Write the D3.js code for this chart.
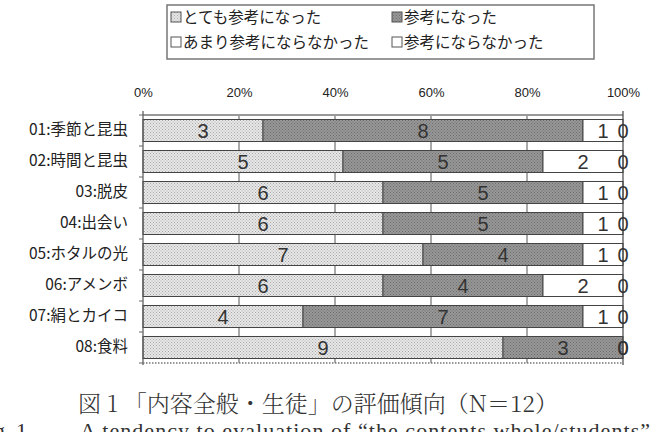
<!DOCTYPE html>
<html><head><meta charset="utf-8">
<script src="https://cdn.jsdelivr.net/npm/d3@7"></script>
<style>body{margin:0;background:#fff}svg{display:block}</style>
</head><body><svg id="c" width="658" height="432"></svg>
<script>
const categories = ["01:季節と昆虫","02:時間と昆虫","03:脱皮","04:出会い","05:ホタルの光","06:アメンボ","07:絹とカイコ","08:食料"];
const seriesNames = ["とても参考になった","参考になった","あまり参考にならなかった","参考にならなかった"];
const s1 = [3,5,6,6,7,6,4,9];
const s2 = [8,5,5,5,4,4,7,3];
const s3 = [1,2,1,1,1,2,1,0];
const s4 = [0,0,0,0,0,0,0,0];
const tickLabels = ["0%","20%","40%","60%","80%","100%"];
const caption = "図 1 「内容全般・生徒」の評価傾向（N＝12）";
const captionEn = "A tendency to evaluation of “the contents whole/students”";

const series = [s1,s2,s3,s4];
const svg = d3.select("#c");
const defs = svg.append("defs");
function dotPattern(id, bg, dot){
  const p = defs.append("pattern").attr("id",id).attr("patternUnits","userSpaceOnUse").attr("width",3).attr("height",3);
  p.append("rect").attr("width",3).attr("height",3).attr("fill",bg);
  p.append("rect").attr("x",0).attr("y",0).attr("width",1).attr("height",1).attr("fill",dot);
  p.append("rect").attr("x",1.5).attr("y",1.5).attr("width",1).attr("height",1).attr("fill",dot);
}
dotPattern("p0","#e8e8e8","#a8a8a8");
dotPattern("p1","#979797","#6e6e6e");
const fills = ["url(#p0)","url(#p1)","#ffffff","#ffffff"];

const x = d3.scaleLinear().domain([0,1]).range([143,623]);
const y = d3.scaleBand().domain(categories).range([115,363]).paddingInner(0.29).paddingOuter(0.145);

const rows = categories.map((c,i)=>{
  const vals = series.map(s=>s[i]);
  const tot = d3.sum(vals);
  let acc = 0;
  return vals.map((v,k)=>{const r={cat:c,k,v,x0:acc/tot,x1:(acc+v)/tot}; acc+=v; return r;});
});

// gridlines
svg.append("g").selectAll("line").data([0.2,0.4,0.6,0.8]).join("line")
  .attr("x1",d=>x(d)).attr("x2",d=>x(d)).attr("y1",115).attr("y2",363)
  .attr("stroke","#555").attr("stroke-width",1);

// top axis
const topAxis = d3.axisTop(x).tickValues([0,0.2,0.4,0.6,0.8,1]).tickFormat((d,i)=>tickLabels[i]).tickSize(0).tickPadding(0);
const ta = svg.append("g").attr("transform","translate(0,92)").call(topAxis);
ta.select(".domain").remove();
ta.selectAll("text").attr("font-family","Liberation Sans Narrow, Liberation Sans, Arial, sans-serif")
  .attr("font-size",13).attr("fill","#222").attr("dy","0.35em");
svg.append("line").attr("x1",143).attr("x2",623).attr("y1",115).attr("y2",115).attr("stroke","#999").attr("stroke-width",2);

// bars
const bars = svg.append("g");
rows.forEach(r=>{
  bars.selectAll(null).data(r.filter(d=>d.v>0)).join("rect")
    .attr("x",d=>x(d.x0)).attr("width",d=>x(d.x1)-x(d.x0))
    .attr("y",d=>y(d.cat)).attr("height",y.bandwidth())
    .attr("fill",d=>fills[d.k]).attr("stroke","#444").attr("stroke-width",1);
});

// left axis
svg.append("line").attr("x1",143).attr("x2",143).attr("y1",111).attr("y2",365).attr("stroke","#555").attr("stroke-width",1.2);
const step = y.step();
const bounds = d3.range(categories.length+1).map(i=>115+i*step);
svg.selectAll("line.lt").data(bounds).join("line")
  .attr("x1",139).attr("x2",143).attr("y1",d=>d).attr("y2",d=>d).attr("stroke","#666");
const la = svg.append("g").attr("transform","translate(128,0)").call(d3.axisLeft(y).tickSize(0).tickPadding(0));
la.select(".domain").remove();
la.selectAll("text").attr("font-family","Noto Sans CJK JP, sans-serif").attr("font-size",15.5).attr("fill","#222");

// right line and bottom dotted axis
svg.append("line").attr("x1",623).attr("x2",623).attr("y1",111).attr("y2",365).attr("stroke","#444").attr("stroke-width",1.2);
svg.append("line").attr("x1",143).attr("x2",623).attr("y1",363).attr("y2",363).attr("stroke","#777").attr("stroke-width",1.5).attr("stroke-dasharray","1.5,1.5");

// value labels
const labels = svg.append("g");
rows.forEach(r=>{
  labels.selectAll(null).data(r).join("text")
    .attr("x",d=>(x(d.x0)+x(d.x1))/2).attr("y",d=>y(d.cat)+y.bandwidth()/2)
    .attr("dy","0.36em").attr("text-anchor","middle")
    .attr("font-family","Liberation Sans, Arial, sans-serif").attr("font-size",20).attr("fill","#333")
    .text(d=>d.v);
});

// legend
const lg = svg.append("g");
lg.append("rect").attr("x",167).attr("y",5).attr("width",427).attr("height",54).attr("fill","#fff").attr("stroke","#777").attr("stroke-width",1.5);
const lpos = [[171,17],[392,17],[171,42],[392,42]];
seriesNames.forEach((n,i)=>{
  const [lx,ly] = lpos[i];
  lg.append("rect").attr("x",lx).attr("y",ly-5).attr("width",10).attr("height",10).attr("fill",fills[i]).attr("stroke","#555");
  lg.append("text").attr("x",lx+12).attr("y",ly).attr("dy","0.36em")
    .attr("font-family","Noto Sans CJK JP, sans-serif").attr("font-size",15.5).attr("fill","#222").text(n);
});

// captions
svg.append("text").attr("x",318).attr("y",404).attr("dy","0.36em").attr("text-anchor","middle")
  .attr("font-family","Noto Serif CJK JP, Noto Sans CJK JP, serif").attr("font-weight",300)
  .attr("font-size",23).attr("fill","#333").text(caption);
svg.append("text").attr("x",27).attr("y",438).attr("text-anchor","end")
  .attr("font-family","Liberation Serif, DejaVu Serif, serif").attr("font-size",22).attr("fill","#333").text("Fig. 1");
svg.append("text").attr("x",80).attr("y",438)
  .attr("textLength",570).attr("lengthAdjust","spacing")
  .attr("font-family","Liberation Serif, DejaVu Serif, serif").attr("font-size",22).attr("fill","#333").text(captionEn);
</script></body></html>
